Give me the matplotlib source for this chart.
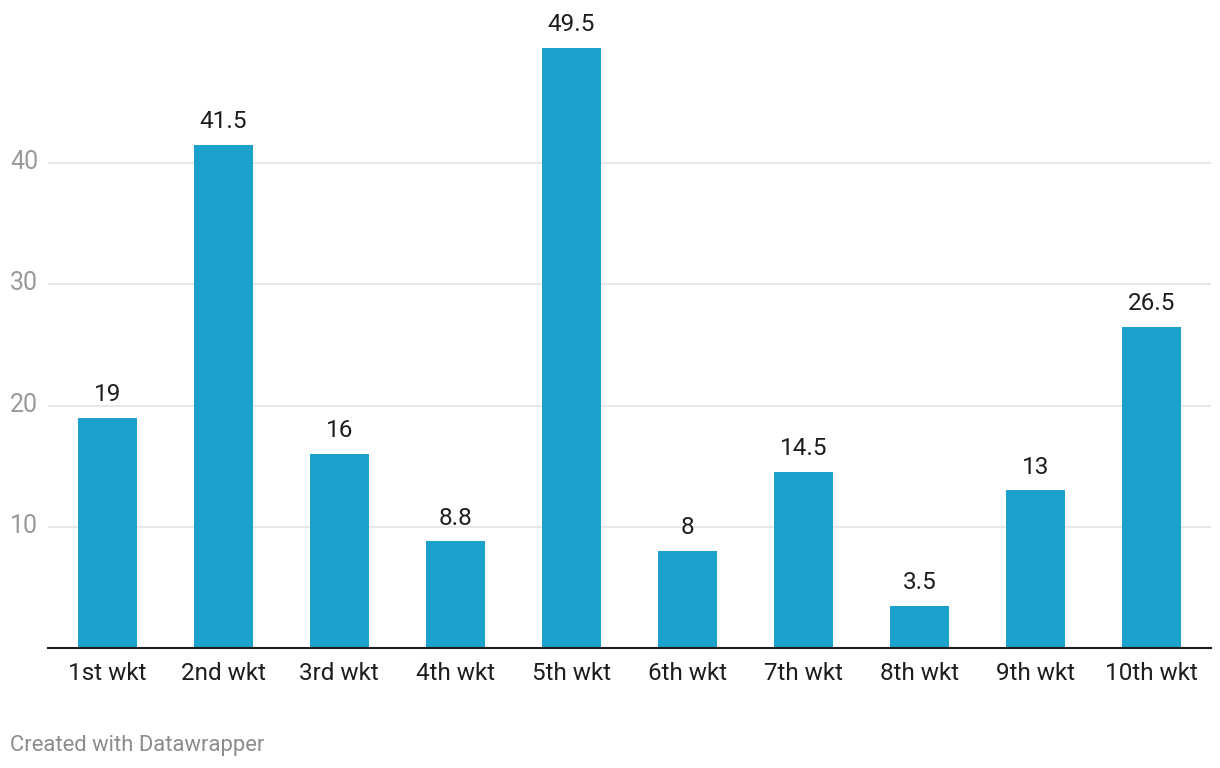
import matplotlib
matplotlib.use("Agg")
import matplotlib.pyplot as plt

categories = ["1st wkt", "2nd wkt", "3rd wkt", "4th wkt", "5th wkt",
              "6th wkt", "7th wkt", "8th wkt", "9th wkt", "10th wkt"]
values = [19, 41.5, 16, 8.8, 49.5, 8, 14.5, 3.5, 13, 26.5]
labels = ["19", "41.5", "16", "8.8", "49.5", "8", "14.5", "3.5", "13", "26.5"]
yticks = [10, 20, 30, 40]

plt.rcParams['font.family'] = ['Roboto', 'DejaVu Sans']

W, H = 1220, 768
fig = plt.figure(figsize=(W / 100, H / 100), dpi=100)
left, right, top, bottom = 48, 1211, 20, 648
ax = fig.add_axes([left / W, 1 - bottom / H, (right - left) / W, (bottom - top) / H])

x = list(range(len(categories)))
ax.bar(x, values, width=0.51, color="#1aa1cc", zorder=3)
ax.set_xlim(-0.51, len(categories) - 1 + 0.51)
ax.set_ylim(0, (bottom - top) / 12.12)

for xi, v, lab in zip(x, values, labels):
    ax.annotate(lab, (xi, v), xytext=(0, 8.5), textcoords="offset points",
                ha="center", va="bottom", fontsize=17.5, color="#1d1d1d")

for yt in yticks:
    ax.axhline(yt, color="#e3e3e3", lw=1.2, zorder=1)
    ax.text(10 / W, ax.transData.transform((0, yt))[1] / H + 1 / H, str(yt),
            transform=fig.transFigure, ha="left", va="center",
            fontsize=18, color="#9a9a9a")

ax.set_yticks([])
ax.set_xticks(x)
ax.set_xticklabels(categories, fontsize=17.5, color="#1d1d1d")
ax.tick_params(axis="x", length=0, pad=10)
for s in ["top", "right", "left"]:
    ax.spines[s].set_visible(False)
ax.spines["bottom"].set_color("#1d1d1d")
ax.spines["bottom"].set_linewidth(1.5)
ax.spines["bottom"].set_zorder(4)

fig.text(10 / W, 1 - 746 / H, "Created with Datawrapper", ha="left", va="center",
         fontsize=15.8, color="#8c8c8c")

fig.savefig("out.png", dpi=100, facecolor="white")
